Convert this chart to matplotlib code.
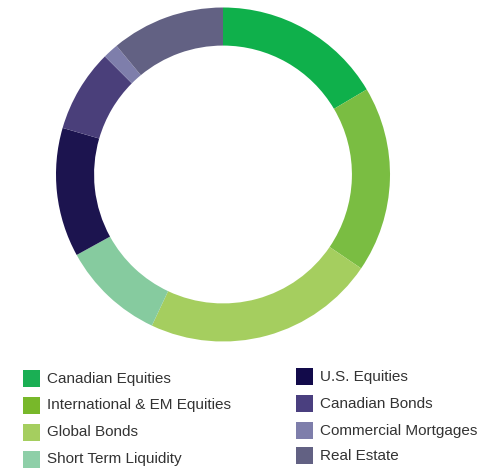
import matplotlib
matplotlib.use("Agg")
import matplotlib.pyplot as plt
from matplotlib.patches import Rectangle

labels = ["Canadian Equities", "International & EM Equities", "Global Bonds",
          "Short Term Liquidity", "U.S. Equities", "Canadian Bonds",
          "Commercial Mortgages", "Real Estate"]
weights = [16.5, 18.0, 22.5, 10.0, 12.5, 8.0, 1.5, 11.0]
colors = ["#0fb04b", "#7abd42", "#a5ce5f", "#86cb9f",
          "#1c144f", "#4a3f7a", "#7e7eab", "#626183"]
legend_colors = ["#1aaf54", "#78b82a", "#a5ce5f", "#8ecfa8",
                 "#120a4a", "#4a3f7f", "#7e7eab", "#626183"]

W, H = 479, 468
fig = plt.figure(figsize=(W / 100, H / 100), dpi=100)

# donut
cx, cy, r = 223, 174.5, 167
ax = fig.add_axes([(cx - r) / W, (H - cy - r) / H, 2 * r / W, 2 * r / H])
ax.pie(weights, colors=colors, startangle=90, counterclock=False, radius=1,
       wedgeprops=dict(width=0.228, linewidth=0))
ax.set_xlim(-1, 1)
ax.set_ylim(-1, 1)
ax.set_aspect("equal")
ax.axis("off")

# legend, two columns of four
lax = fig.add_axes([0, 0, 1, 1])
lax.set_xlim(0, W)
lax.set_ylim(H, 0)
lax.axis("off")
col_x = [23, 296]
col_y = [[378.5, 405, 432, 459.5], [376.5, 403.5, 430.5, 455.5]]
for i, (lab, c) in enumerate(zip(labels, legend_colors)):
    col, row = divmod(i, 4)
    x, y = col_x[col], col_y[col][row]
    lax.add_patch(Rectangle((x, y - 8.5), 17, 17, facecolor=c, edgecolor="none"))
    lax.text(x + 24, y, lab, fontsize=11, family="Liberation Sans",
             color="#333333", va="center", ha="left", clip_on=False)

fig.savefig("out.png", dpi=100)
